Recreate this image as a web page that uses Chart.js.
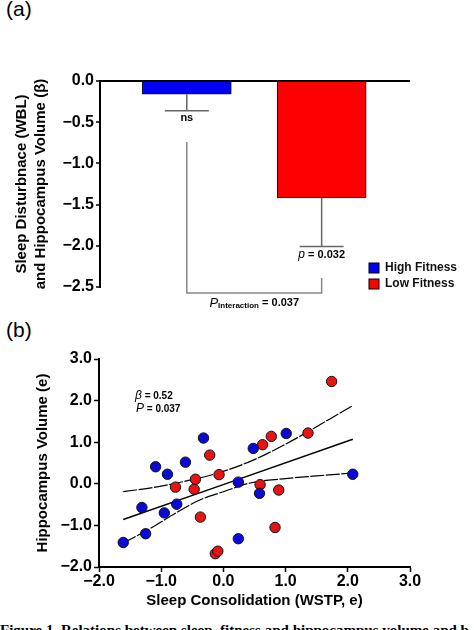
<!DOCTYPE html>
<html lang="en">
<head>
<meta charset="UTF-8" />
<title>Sleep, Fitness and Hippocampus Volume</title>
<script src="https://cdn.jsdelivr.net/npm/chart.js"></script>
<style>
  body {
    margin: 0;
    background: #fff;
    width: 474px;
    height: 630px;
    overflow: hidden;
    position: relative;
    font-family: "Liberation Sans", Arial, sans-serif;
    color: #000;
  }
  .panel-label {
    position: absolute;
    left: 6px;
    font-size: 21px;
    line-height: 24px;
  }
  #wrapA { position: absolute; left: 0; top: 0; width: 474px; height: 310px; }
  #wrapB { position: absolute; left: 0; top: 310px; width: 474px; height: 305px; }
  .caption {
    position: absolute;
    left: 0;
    top: 622px;
    font-family: "Liberation Serif", serif;
    font-weight: bold;
    font-size: 15px;
    white-space: nowrap;
  }
</style>
</head>
<body>

<div class="panel-label" style="top:-3px">(a)</div>
<div id="wrapA"><canvas id="barChart" width="474" height="310"></canvas></div>

<div class="panel-label" style="top:318px">(b)</div>
<div id="wrapB"><canvas id="scatterChart" width="474" height="305"></canvas></div>

<div class="caption">Figure 1. Relations between sleep, fitness and hippocampus volume and b</div>

<script>
  // ---- panel (a) data ----
  const groups = ['High Fitness', 'Low Fitness'];
  const groupX = [0.28, 0.715];          // bar centre along hidden x axis
  const betaValues = [-0.16, -1.42];
  const betaErrors = [0.20, 0.59];
  const barColors = ['#0000f2', '#ff0000'];
  const barBorders = ['#101040', '#400000'];

  // ---- panel (b) data ----
  const highX = [-1.61, -1.31, -1.25, -1.09, -0.95, -0.90, -0.75, -0.61, -0.32, 0.24, 0.24, 0.48, 0.58, 1.01, 2.08];
  const highY = [-1.41, -0.57, -1.20, 0.41, -0.70, 0.23, -0.49, 0.52, 1.10, 0.04, -1.32, 0.85, -0.23, 1.21, 0.23];
  const lowX = [-0.77, -0.47, -0.45, -0.37, -0.22, -0.13, -0.09, -0.07, 0.59, 0.63, 0.77, 0.83, 0.89, 1.36, 1.74];
  const lowY = [-0.08, -0.13, 0.11, -0.80, 0.69, -1.68, -1.62, 0.22, -0.02, 0.94, 1.14, -1.05, -0.15, 1.22, 2.46];
  const fitX = [-1.61, 2.08];
  const fitY = [-0.86, 1.07];
  const upperX = [-1.61, -1.02, -0.59, -0.06, 0.48, 1.02, 2.08];
  const upperY = [-0.19, -0.06, 0.07, 0.27, 0.57, 0.97, 1.88];
  const lowerX = [-1.61, -1.24, -0.75, -0.38, 0.0, 0.43, 0.96, 1.5, 2.08];
  const lowerY = [-1.42, -1.13, -0.69, -0.39, -0.19, 0.02, 0.12, 0.19, 0.26];

  const tickFont = { family: 'Liberation Sans, Arial, sans-serif', size: 16, weight: 'bold' };
  const titleFont = { family: 'Liberation Sans, Arial, sans-serif', size: 15, weight: 'bold' };

  function minusFmt(v) {
    return (v < 0 ? '\u2212' : '') + Math.abs(v).toFixed(1);
  }

  function pts(xs, ys) {
    return xs.map((x, i) => ({ x: x, y: ys[i] }));
  }

  // error bars, significance labels, bracket and legend for panel (a)
  const barExtras = {
    id: 'barExtras',
    afterDatasetsDraw(chart) {
      const c = chart.ctx;
      const xs = chart.scales.x, ys = chart.scales.y;
      const area = chart.chartArea;
      c.save();
      c.strokeStyle = '#666';
      c.lineWidth = 1.5;
      const capEnds = [];
      betaValues.forEach((v, i) => {
        const x = xs.getPixelForValue(groupX[i]);
        const y0 = ys.getPixelForValue(v);
        const y1 = ys.getPixelForValue(v - betaErrors[i]);
        c.beginPath();
        c.moveTo(x, y0); c.lineTo(x, y1);
        c.moveTo(x - 22, y1); c.lineTo(x + 22, y1);
        c.stroke();
        capEnds.push({ x: x, y: y1 });
      });

      // interaction bracket
      const bTop = ys.getPixelForValue(-0.74);
      const bBottom = area.bottom + 6;
      c.strokeStyle = '#888';
      c.beginPath();
      c.moveTo(capEnds[0].x, bTop);
      c.lineTo(capEnds[0].x, bBottom);
      c.lineTo(capEnds[1].x, bBottom);
      c.lineTo(capEnds[1].x, area.bottom - 9);
      c.stroke();

      c.fillStyle = '#000';
      c.textBaseline = 'middle';
      c.textAlign = 'center';
      c.font = 'bold 11px "Liberation Sans", Arial, sans-serif';
      c.fillText('ns', capEnds[0].x, capEnds[0].y + 7);

      // p = 0.032 under red error cap
      const pY = capEnds[1].y + 8;
      c.textAlign = 'left';
      c.font = 'italic 12px "Liberation Sans", Arial, sans-serif';
      const pw = c.measureText('p').width;
      c.font = 'bold 11px "Liberation Sans", Arial, sans-serif';
      const rest = ' = 0.032';
      const rw = c.measureText(rest).width;
      let sx = capEnds[1].x - (pw + rw) / 2;
      c.font = 'italic 12px "Liberation Sans", Arial, sans-serif';
      c.fillText('p', sx, pY);
      c.font = 'bold 11px "Liberation Sans", Arial, sans-serif';
      c.fillText(rest, sx + pw, pY);

      // P interaction label
      const iY = bBottom + 10;
      const mid = (capEnds[0].x + capEnds[1].x) / 2;
      c.font = 'italic 13px "Liberation Sans", Arial, sans-serif';
      const w1 = c.measureText('P').width;
      c.font = 'bold 8px "Liberation Sans", Arial, sans-serif';
      const w2 = c.measureText('Interaction').width;
      c.font = 'bold 11px "Liberation Sans", Arial, sans-serif';
      const w3 = c.measureText(' = 0.037').width;
      sx = mid - (w1 + w2 + w3) / 2;
      c.font = 'italic 13px "Liberation Sans", Arial, sans-serif';
      c.fillText('P', sx, iY);
      c.font = 'bold 8px "Liberation Sans", Arial, sans-serif';
      c.fillText('Interaction', sx + w1, iY + 3);
      c.font = 'bold 11px "Liberation Sans", Arial, sans-serif';
      c.fillText(' = 0.037', sx + w1 + w2, iY);

      // legend
      const lx = area.right - 41;
      let ly = area.bottom - 24;
      c.font = 'bold 12px "Liberation Sans", Arial, sans-serif';
      groups.forEach((g, i) => {
        c.fillStyle = barColors[i];
        c.fillRect(lx, ly, 10, 10);
        c.strokeStyle = '#000';
        c.lineWidth = 1;
        c.strokeRect(lx, ly, 10, 10);
        c.fillStyle = '#111';
        c.fillText(g, lx + 16, ly + 5);
        ly += 16;
      });
      c.restore();
    }
  };

  new Chart(document.getElementById('barChart'), {
    type: 'bar',
    data: {
      datasets: [{
        label: 'Sleep disturbance beta',
        data: pts(groupX, betaValues),
        backgroundColor: barColors,
        borderColor: barBorders,
        borderWidth: 1.2,
        barThickness: 89
      }]
    },
    options: {
      responsive: false,
      animation: false,
      layout: { padding: { left: 0, right: 64, top: 81, bottom: 23 } },
      plugins: { legend: { display: false }, tooltip: { enabled: false } },
      scales: {
        x: { type: 'linear', min: 0, max: 1, offset: false, display: false },
        y: {
          min: -2.5,
          max: 0,
          afterFit: s => { s.width = 100; },
          border: { color: '#000', width: 2 },
          grid: {
            color: ctx => ctx.tick && ctx.tick.value === 0 ? '#000' : 'rgba(0,0,0,0)',
            lineWidth: 2,
            tickColor: '#000',
            tickLength: 4,
            tickWidth: 1.5
          },
          ticks: { stepSize: 0.5, color: '#000', font: tickFont, padding: 2, callback: minusFmt },
          title: {
            display: true,
            text: ['Sleep Disturbnace (WBL)', 'and Hippocampus Volume (\u03b2)'],
            color: '#000',
            font: Object.assign({ lineHeight: 1.27 }, titleFont),
            padding: { top: 12, bottom: 0 }
          }
        }
      }
    },
    plugins: [barExtras]
  });

  // regression stats text for panel (b)
  const statsText = {
    id: 'statsText',
    afterDraw(chart) {
      const c = chart.ctx;
      const area = chart.chartArea;
      c.save();
      c.fillStyle = '#000';
      c.textBaseline = 'middle';
      c.textAlign = 'left';
      const x = area.left + 36;
      c.font = 'italic 12px "Liberation Sans", Arial, sans-serif';
      c.fillText('\u03b2', x, area.top + 37);
      let w = c.measureText('\u03b2').width;
      c.font = 'bold 10px "Liberation Sans", Arial, sans-serif';
      c.fillText(' = 0.52', x + w, area.top + 37);
      c.font = 'italic 12px "Liberation Sans", Arial, sans-serif';
      c.fillText('P', x + 1, area.top + 50);
      w = c.measureText('P').width;
      c.font = 'bold 10px "Liberation Sans", Arial, sans-serif';
      c.fillText(' = 0.037', x + 1 + w, area.top + 50);
      c.restore();
    }
  };

  const lineStyle = { type: 'line', showLine: true, pointRadius: 0, borderColor: '#000', fill: false, cubicInterpolationMode: 'monotone' };

  new Chart(document.getElementById('scatterChart'), {
    type: 'scatter',
    data: {
      datasets: [
        Object.assign({ label: 'Fit', data: pts(fitX, fitY), borderWidth: 1.5, order: 3 }, lineStyle),
        Object.assign({ label: 'Upper 95% CI', data: pts(upperX, upperY), borderWidth: 1.2, borderDash: [14, 1.5], order: 3 }, lineStyle),
        Object.assign({ label: 'Lower 95% CI', data: pts(lowerX, lowerY), borderWidth: 1.2, borderDash: [14, 1.5], order: 3 }, lineStyle),
        {
          label: 'High Fitness',
          data: pts(highX, highY),
          backgroundColor: '#0a0ad6',
          borderColor: '#111',
          borderWidth: 1,
          pointRadius: 5.2,
          order: 1
        },
        {
          label: 'Low Fitness',
          data: pts(lowX, lowY),
          backgroundColor: '#e81414',
          borderColor: '#111',
          borderWidth: 1,
          pointRadius: 5.2,
          order: 2
        }
      ]
    },
    options: {
      responsive: false,
      animation: false,
      layout: { padding: { left: 0, right: 64, top: 49, bottom: 0 } },
      plugins: { legend: { display: false }, tooltip: { enabled: false } },
      scales: {
        x: {
          type: 'linear',
          min: -2,
          max: 3,
          afterFit: s => { s.height = 48; },
          border: { color: '#000', width: 2 },
          grid: { drawOnChartArea: false, tickColor: '#000', tickLength: 5, tickWidth: 1.5 },
          ticks: { stepSize: 1, color: '#000', font: tickFont, padding: 0, maxRotation: 0, callback: minusFmt },
          title: {
            display: true,
            text: 'Sleep Consolidation (WSTP, e)',
            color: '#000',
            font: { family: 'Liberation Sans, Arial, sans-serif', size: 15, weight: 'bold', lineHeight: 1.2 },
            padding: { top: 0, bottom: 5 }
          }
        },
        y: {
          type: 'linear',
          min: -2,
          max: 3,
          afterFit: s => { s.width = 99; },
          border: { color: '#000', width: 2 },
          grid: { drawOnChartArea: false, tickColor: '#000', tickLength: 5, tickWidth: 1.5 },
          ticks: { stepSize: 1, color: '#000', font: tickFont, padding: 2, callback: minusFmt },
          title: {
            display: true,
            text: 'Hippocampus Volume (e)',
            color: '#000',
            font: { family: 'Liberation Sans, Arial, sans-serif', size: 15, weight: 'bold', lineHeight: 1.2 },
            padding: { top: 34, bottom: 0 }
          }
        }
      }
    },
    plugins: [statsText]
  });
</script>

</body>
</html>
